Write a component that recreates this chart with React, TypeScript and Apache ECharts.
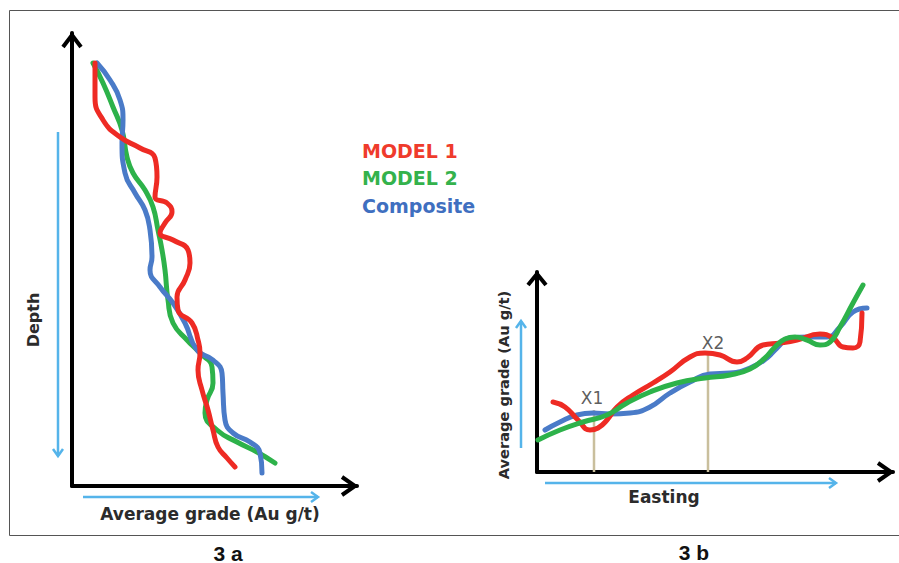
import React, { useEffect, useRef } from 'react';
import * as echarts from 'echarts';

// ---------- Figure 3a : grade vs depth profile ([grade, depth]) ----------
const profileModel1 = [
  [2.3, 3.0], [2.3, 6.4], [3.1, 8.7], [4.8, 10.4], [6.8, 11.5], [8.3, 12.5], [8.5, 14.4],
  [8.3, 16.4], [9.5, 17.0], [10.0, 17.9], [9.3, 19.0], [8.8, 20.0], [10.1, 20.7], [11.6, 21.7],
  [11.8, 23.0], [11.3, 24.7], [10.5, 26.4], [10.6, 27.7], [12.0, 29.0], [12.6, 30.7], [12.8, 32.0],
  [12.6, 33.7], [13.0, 35.7], [13.6, 37.7], [14.1, 39.7], [14.6, 41.4], [15.5, 42.5], [16.3, 43.4],
];
const profileModel2 = [
  [2.1, 3.0], [3.1, 5.0], [4.1, 7.4], [5.0, 9.7], [5.5, 12.4], [6.1, 14.0], [7.3, 15.7],
  [8.1, 17.4], [8.6, 19.7], [9.0, 21.7], [9.3, 23.7], [9.6, 26.7], [10.1, 29.0], [11.5, 30.7],
  [12.8, 32.0], [14.0, 33.4], [14.1, 35.0], [13.5, 36.7], [13.3, 38.0], [14.5, 39.7], [16.5, 40.9],
  [18.5, 41.9], [20.3, 43.0],
];
const profileComposite = [
  [2.5, 3.0], [3.8, 4.7], [4.8, 6.7], [5.1, 8.7], [5.0, 11.0], [5.3, 14.0], [6.3, 16.0],
  [7.3, 17.7], [7.8, 19.7], [8.0, 22.4], [7.8, 23.7], [8.8, 25.4], [10.1, 27.0], [11.3, 29.0],
  [12.5, 31.7], [14.1, 32.7], [15.0, 34.0], [15.1, 36.0], [15.3, 38.7], [16.1, 40.0], [17.8, 40.9],
  [18.8, 42.0], [19.0, 44.0],
];

// ---------- Figure 3b : grade along easting ([easting, grade]) ----------
const eastModel1 = [
  [1.6, 7.0], [2.8, 6.5], [4.1, 5.2], [5.3, 4.2], [6.1, 4.4], [7.0, 5.2], [8.0, 6.5], [9.6, 7.7],
  [11.6, 8.9], [13.3, 10.0], [15.3, 11.5], [16.8, 11.9], [18.3, 11.7], [20.0, 11.0], [21.0, 11.4],
  [22.6, 12.7], [24.3, 12.9], [26.0, 13.2], [28.3, 13.8], [29.6, 13.4], [30.6, 12.5], [31.6, 12.4],
  [32.3, 13.0], [32.5, 15.9],
];
const eastModel2 = [
  [0.1, 3.2], [2.3, 4.2], [4.6, 5.0], [7.0, 5.7], [9.0, 6.9], [11.3, 8.0], [14.0, 8.9], [16.8, 9.4],
  [19.3, 9.7], [21.3, 10.3], [22.8, 11.4], [23.8, 12.5], [24.8, 13.3], [25.8, 13.5], [27.0, 13.2],
  [28.3, 12.7], [29.3, 13.0], [30.3, 14.5], [31.6, 16.9], [32.6, 18.7],
];
const eastComposite = [
  [0.8, 4.2], [2.3, 5.0], [4.0, 5.7], [5.6, 5.9], [7.3, 5.8], [9.3, 5.9], [11.3, 6.5], [13.3, 7.9],
  [15.3, 9.0], [17.3, 9.8], [19.3, 9.9], [21.3, 10.4], [23.0, 11.4], [24.0, 12.4], [25.3, 13.4],
  [27.3, 13.5], [29.0, 13.5], [30.3, 14.5], [31.6, 16.0], [33.0, 16.4],
];

// Section markers on 3b
const markerNames = ['X1', 'X2'];
const markerEasting = [5.7, 17.1];
const markerGrade = [6.2, 11.7];

const seriesNames = ['MODEL 1', 'MODEL 2', 'Composite'];
const panelLabels = ['3 a', '3 b'];
const axisTitles = ['Depth', 'Average grade (Au g/t)', 'Easting'];

const RED = '#ee2b24';
const GREEN = '#2db24a';
const BLUE = '#4a7bc8';
const SKY = '#55b4ea';
const FONT = 'DejaVu Sans';

function chevron(points: number[][], color: string, width: number) {
  return {
    type: 'polyline',
    shape: { points },
    style: { stroke: color, lineWidth: width, fill: 'none', lineJoin: 'miter', lineCap: 'butt' },
    silent: true,
  };
}
function seg(x1: number, y1: number, x2: number, y2: number, color: string, width: number) {
  return {
    type: 'line',
    shape: { x1, y1, x2, y2 },
    style: { stroke: color, lineWidth: width },
    silent: true,
  };
}
function label(text: string, x: number, y: number, size: number, color: string, opts: any = {}) {
  return {
    type: 'text',
    x,
    y,
    rotation: opts.rotation || 0,
    style: {
      text,
      fill: color,
      font: `${opts.weight || 'bold'} ${size}px "${opts.family || FONT}"`,
      textAlign: opts.align || 'center',
      textVerticalAlign: 'middle',
    },
    silent: true,
  };
}

function curve(name: string, data: number[][], color: string, idx: number, z: number) {
  return {
    type: 'line',
    name,
    data,
    xAxisIndex: idx,
    yAxisIndex: idx,
    smooth: 0.5,
    symbol: 'none',
    z,
    lineStyle: { color, width: 5, cap: 'round', join: 'round' },
    itemStyle: { color },
  };
}

function markerSeries(i: number) {
  return {
    type: 'line',
    name: markerNames[i],
    xAxisIndex: 1,
    yAxisIndex: 1,
    symbol: 'none',
    z: 1,
    lineStyle: { color: '#c9bf9d', width: 2.5 },
    data: [
      [markerEasting[i], 0],
      [markerEasting[i], markerGrade[i]],
    ],
  };
}

function markerLabels() {
  return {
    type: 'scatter',
    name: 'markers',
    xAxisIndex: 1,
    yAxisIndex: 1,
    symbolSize: 1,
    z: 5,
    itemStyle: { color: 'rgba(0,0,0,0)' },
    data: markerNames.map((n, i) => ({
      value: [markerEasting[i], markerGrade[i]],
      label: {
        show: true,
        position: 'top',
        distance: 3,
        offset: i === 0 ? [-2, 0] : [5, 0],
        formatter: n,
        fontFamily: FONT,
        fontSize: 17,
        color: '#333',
      },
    })),
  };
}

const hiddenAxis = (idx: number, min: number, max: number, extra: any = {}) => ({
  type: 'value',
  gridIndex: idx,
  min,
  max,
  axisLine: { show: true, onZero: false, lineStyle: { color: '#000', width: 4 } },
  axisTick: { show: false },
  axisLabel: { show: false },
  splitLine: { show: false },
  ...extra,
});

export default function App() {
  const ref = useRef<HTMLDivElement>(null);
  useEffect(() => {
    if (!ref.current) return;
    const chart = echarts.init(ref.current, null, { renderer: 'svg' });
    const option: any = {
      animation: false,
      backgroundColor: '#fff',
      grid: [
        { left: 72, top: 33, width: 285, height: 453 },
        { left: 537, top: 272, width: 356, height: 200 },
      ],
      xAxis: [hiddenAxis(0, 0, 28.5), hiddenAxis(1, 0, 35.6)],
      yAxis: [hiddenAxis(0, 0, 45.3, { inverse: true }), hiddenAxis(1, 0, 20)],
      series: [
        curve(seriesNames[1], profileModel2, GREEN, 0, 2),
        curve(seriesNames[2], profileComposite, BLUE, 0, 3),
        curve(seriesNames[0], profileModel1, RED, 0, 4),
        markerSeries(0),
        markerSeries(1),
        markerLabels(),
        curve(seriesNames[2], eastComposite, BLUE, 1, 2),
        curve(seriesNames[0], eastModel1, RED, 1, 3),
        curve(seriesNames[1], eastModel2, GREEN, 1, 4),
      ],
      graphic: [
        // frame
        seg(9.5, 10.5, 899, 10.5, '#555', 1),
        seg(9.5, 10.5, 9.5, 535.5, '#555', 1),
        seg(9.5, 535.5, 899, 535.5, '#555', 1),
        // black axis arrowheads
        chevron([[63, 47], [72, 35], [81, 47]], '#000', 4),
        chevron([[342, 477], [355, 486], [342, 495]], '#000', 4),
        chevron([[528, 285], [537, 274], [546, 285]], '#000', 4),
        chevron([[878, 463], [891, 472], [878, 481]], '#000', 4),
        // sky blue direction arrows
        seg(58, 132, 58, 456, SKY, 2.5),
        chevron([[53, 449], [58, 456], [63, 449]], SKY, 2.5),
        seg(83, 497, 318, 497, SKY, 2.5),
        chevron([[311, 492], [318, 497], [311, 502]], SKY, 2.5),
        seg(521, 448, 521, 321, SKY, 2.5),
        chevron([[516, 328], [521, 321], [526, 328]], SKY, 2.5),
        seg(545, 483, 836, 483, SKY, 2.5),
        chevron([[829, 478], [836, 483], [829, 488]], SKY, 2.5),
        // legend texts
        label(seriesNames[0], 362, 151, 19, '#ef3b2c', { align: 'left' }),
        label(seriesNames[1], 362, 178, 19, '#34b24c', { align: 'left' }),
        label(seriesNames[2], 362, 206, 19, '#3f6fc0', { align: 'left' }),
        // axis titles
        label(axisTitles[0], 33, 320, 16, '#2b2b2b', { rotation: Math.PI / 2 }),
        label(axisTitles[1], 210, 514, 17, '#2b2b2b'),
        label(axisTitles[1], 503, 385, 14.6, '#2b2b2b', { rotation: Math.PI / 2 }),
        label(axisTitles[2], 664, 497, 17, '#2b2b2b'),
        // panel labels
        label(panelLabels[0], 228, 553, 21, '#111', { family: 'Liberation Sans' }),
        label(panelLabels[1], 694, 552, 21, '#111', { family: 'Liberation Sans' }),
      ],
    };
    chart.setOption(option);
    return () => chart.dispose();
  }, []);
  return (
    <div
      ref={ref}
      style={{ position: 'absolute', left: 0, top: 0, width: 899, height: 563, background: '#fff' }}
    />
  );
}
